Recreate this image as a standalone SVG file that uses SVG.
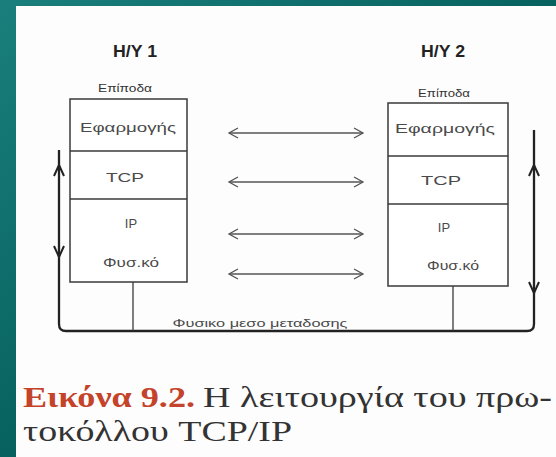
<svg xmlns="http://www.w3.org/2000/svg" width="556" height="457" viewBox="0 0 556 457">
<defs>
<linearGradient id="bg" x1="0" y1="0" x2="1" y2="1">
<stop offset="0" stop-color="#1a7f7c"/>
<stop offset="0.5" stop-color="#07625f"/>
<stop offset="1" stop-color="#045a58"/>
</linearGradient>
<style>
.box{fill:#fff;stroke:#3a3a3a;stroke-width:1.5}
.div{stroke:#3a3a3a;stroke-width:1.3}
.lbl{font-family:"Liberation Sans",Arial,sans-serif;fill:#4a4a4a;text-anchor:middle}
.ttl{font-family:"Liberation Sans",Arial,sans-serif;font-weight:bold;fill:#222;font-size:17px}
.sm{font-size:10.5px;fill:#333}
.ly{font-size:13px}
.arr{fill:none;stroke:#555;stroke-width:1.4}
.ah{fill:none;stroke:#555;stroke-width:1.3}
.bus{fill:none;stroke:#222;stroke-width:2.3}
.vh{fill:none;stroke:#222;stroke-width:2}
.cap{font-family:"Liberation Serif","Times New Roman",serif;font-size:30px;fill:#333}
.red{font-weight:bold;fill:#c4432b}
</style>
</defs>
<rect x="0" y="0" width="556" height="457" fill="url(#bg)"/>
<rect x="16" y="6" width="540" height="451" fill="#fdfdfd"/>

<g id="host1">
<text class="ttl" x="113" y="57" textLength="44" lengthAdjust="spacingAndGlyphs">H/Y 1</text>
<text class="lbl sm" x="125" y="92" textLength="54" lengthAdjust="spacingAndGlyphs">Επίποδα</text>
<rect class="box" x="70" y="99" width="117" height="183"/>
<line class="div" x1="70" y1="151" x2="187" y2="151"/>
<line class="div" x1="70" y1="199" x2="187" y2="199"/>
<text class="lbl ly" x="128" y="132" textLength="96" lengthAdjust="spacingAndGlyphs">Εφαρμογής</text>
<text class="lbl ly" x="125" y="182" textLength="38" lengthAdjust="spacingAndGlyphs">TCP</text>
<text class="lbl ly" x="131" y="228">IP</text>
<text class="lbl ly" x="131" y="267" textLength="56" lengthAdjust="spacingAndGlyphs">Φυσ.κό</text>
</g>

<g id="host2">
<text class="ttl" x="421" y="57" textLength="44" lengthAdjust="spacingAndGlyphs">H/Y 2</text>
<text class="lbl sm" x="444" y="97" textLength="52" lengthAdjust="spacingAndGlyphs">Επίποδα</text>
<rect class="box" x="388" y="103" width="120" height="183"/>
<line class="div" x1="388" y1="156" x2="508" y2="156"/>
<line class="div" x1="388" y1="204" x2="508" y2="204"/>
<text class="lbl ly" x="445" y="133" textLength="100" lengthAdjust="spacingAndGlyphs">Εφαρμογής</text>
<text class="lbl ly" x="441" y="185" textLength="40" lengthAdjust="spacingAndGlyphs">TCP</text>
<text class="lbl ly" x="444" y="232">IP</text>
<text class="lbl ly" x="453" y="270" textLength="52" lengthAdjust="spacingAndGlyphs">Φυσ.κό</text>
</g>

<g id="medium">
<text class="lbl" x="260" y="327" font-size="10.5" textLength="175" lengthAdjust="spacingAndGlyphs">Φυσικο μεσο μεταδοσης</text>
</g>

<g id="connectors">
<path class="arr" d="M229,133 H363 M229,182 H363 M229,234 H363 M229,274 H363"/>
<path class="ah" d="M238,128 L229,133 L238,138 M354,128 L363,133 L354,138"/>
<path class="ah" d="M238,177 L229,182 L238,187 M354,177 L363,182 L354,187"/>
<path class="ah" d="M238,229 L229,234 L238,239 M354,229 L363,234 L354,239"/>
<path class="ah" d="M238,269 L229,274 L238,279 M354,269 L363,274 L354,279"/>
<path class="bus" d="M59,150 V324 Q59,331 66,331 H527 Q534,331 534,324 V130"/>
<line class="div" x1="133" y1="282" x2="133" y2="331"/>
<line class="div" x1="453" y1="286" x2="453" y2="331"/>
<path class="vh" d="M54,176 L59,165 L64,176 M54,246 L59,257 L64,246"/>
<path class="vh" d="M529,176 L534,165 L539,176 M529,282 L534,293 L539,282"/>
</g>

<g id="caption">
<text class="cap red" x="23" y="407" textLength="172" lengthAdjust="spacingAndGlyphs">Εικόνα 9.2.</text>
<text class="cap" x="203" y="407" textLength="349" lengthAdjust="spacingAndGlyphs">Η λειτουργία του πρω-</text>
<text class="cap" x="23" y="441" textLength="269" lengthAdjust="spacingAndGlyphs">τοκόλλου TCP/IP</text>
</g>
</svg>
